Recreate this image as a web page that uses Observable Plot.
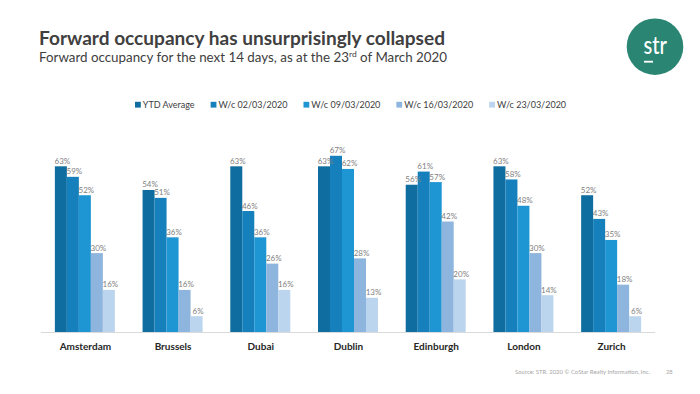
<!DOCTYPE html>
<html>
<head>
<meta charset="utf-8">
<script src="https://cdn.jsdelivr.net/npm/d3@7"></script>
<script src="https://cdn.jsdelivr.net/npm/@observablehq/plot@0.6"></script>
<style>
  html, body { margin: 0; padding: 0; background: #fff; }
  #wrap { position: relative; width: 700px; height: 394px; overflow: hidden; font-family: Lato, "Open Sans", sans-serif; }
  #wrap > svg, #wrap > figure > svg { position: absolute; left: 0; top: 0; }
  #overlay { position: absolute; left: 0; top: 0; pointer-events: none; }
</style>
</head>
<body>
<div id="wrap"></div>
<script>
const cities = ["Amsterdam", "Brussels", "Dubai", "Dublin", "Edinburgh", "London", "Zurich"];
const seriesNames = ["YTD Average", "W/c 02/03/2020", "W/c 09/03/2020", "W/c 16/03/2020", "W/c 23/03/2020"];
const ytdAverage = [63, 54, 63, 63, 56, 63, 52];
const wc0203 = [59, 51, 46, 67, 61, 58, 43];
const wc0903 = [52, 36, 36, 62, 57, 48, 35];
const wc1603 = [30, 16, 26, 28, 42, 30, 18];
const wc2303 = [16, 6, 16, 13, 20, 14, 6];
const seriesColors = ["#0F6E9F", "#1580BB", "#1E96D3", "#8EB5DD", "#BCD5EE"];

const titleText = "Forward occupancy has unsurprisingly collapsed";
const sourceText = "Source: STR. 2020 \u00A9 CoStar Realty Information, Inc.";
const pageNumber = "28";

const seriesValues = [ytdAverage, wc0203, wc0903, wc1603, wc2303];
const data = cities.flatMap((city, i) =>
  seriesNames.map((s, j) => ({city, series: s, value: seriesValues[j][i]}))
);

const chart = Plot.plot({
  width: 700,
  height: 394,
  marginLeft: 41,
  marginRight: 45,
  marginTop: 69,
  marginBottom: 62,
  style: {fontFamily: "Lato, 'Open Sans', sans-serif", background: "transparent"},
  fx: {domain: cities, paddingInner: 0.316, paddingOuter: 0.158, round: false, label: null},
  x: {domain: seriesNames, padding: 0, round: false, axis: null},
  y: {domain: [0, 100], axis: null},
  color: {domain: seriesNames, range: seriesColors},
  marks: [
    Plot.ruleY([0], {stroke: "#d9d9d9", strokeWidth: 1, insetLeft: -14, insetRight: -14}),
    Plot.barY(data, {fx: "city", x: "series", y: "value", fill: "series"}),
    Plot.text(data, {
      fx: "city", x: "series", y: "value",
      text: d => d.value + "%",
      lineAnchor: "bottom", dy: -3, dx: 1,
      fill: "#7f7f7f", fontSize: 8
    }),
    Plot.axisFx({anchor: "bottom", tickSize: 0, tickPadding: 10, label: null,
      fontWeight: "bold", fontSize: 10, color: "#262626"})
  ]
});

const wrap = document.getElementById("wrap");
wrap.appendChild(chart);

// Overlay: titles, legend, logo, footer
const ov = d3.select(wrap).append("svg")
  .attr("id", "overlay")
  .attr("width", 700).attr("height", 394)
  .style("font-family", "Lato, 'Open Sans', sans-serif");

ov.append("text")
  .attr("x", 39).attr("y", 45)
  .attr("font-size", 18.5).attr("font-weight", "bold").attr("fill", "#404040")
  .attr("textLength", 406).attr("lengthAdjust", "spacingAndGlyphs")
  .text(titleText);

const sub = ov.append("text")
  .attr("x", 39).attr("y", 62)
  .attr("font-size", 12.6).attr("fill", "#404040")
  .attr("textLength", 408).attr("lengthAdjust", "spacingAndGlyphs");
sub.append("tspan").text("Forward occupancy for the next 14 days, as at the 23");
sub.append("tspan").attr("font-size", 8).attr("dy", -5).text("rd");
sub.append("tspan").attr("dy", 5).text(" of March 2020");

// Legend using the chart's colour scale
const color = chart.scale("color");
let lx = 135;
color.domain.forEach((name, i) => {
  const g = ov.append("g");
  g.append("rect").attr("x", lx).attr("y", 101.8).attr("width", 5.8).attr("height", 5.8)
    .attr("fill", color.range[i]);
  const t = g.append("text").attr("x", lx + 7.8).attr("y", 108.2)
    .attr("font-size", 9.0).attr("fill", "#404040").text(name);
  const w = t.node().getComputedTextLength();
  lx += 7.8 + w + 16;
});

// Logo
ov.append("circle").attr("cx", 655).attr("cy", 46.7).attr("r", 28.3).attr("fill", "#2B8573");
ov.append("text").attr("x", 643.5).attr("y", 54.3)
  .attr("font-size", 24).attr("font-weight", 500).attr("fill", "#fff")
  .attr("textLength", 23.5).attr("lengthAdjust", "spacingAndGlyphs")
  .text("str");
ov.append("rect").attr("x", 644).attr("y", 60.8).attr("width", 9).attr("height", 1.8).attr("fill", "#fff");

// Footer
ov.append("text").attr("x", 515).attr("y", 374)
  .attr("font-size", 5.8).attr("fill", "#a6a6a6")
  .attr("textLength", 135).attr("lengthAdjust", "spacingAndGlyphs")
  .text(sourceText);
ov.append("text").attr("x", 666).attr("y", 374)
  .attr("font-size", 5.8).attr("fill", "#a6a6a6").text(pageNumber);
</script>
</body>
</html>
